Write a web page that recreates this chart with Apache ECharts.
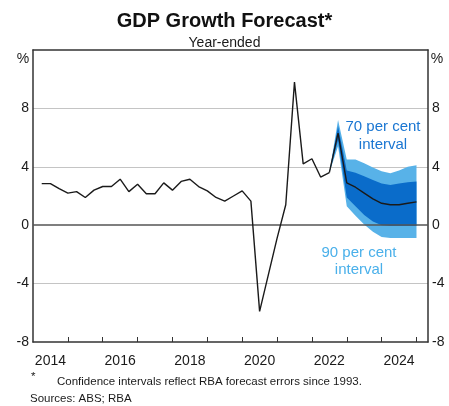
<!DOCTYPE html>
<html>
<head>
<meta charset="utf-8">
<script src="https://cdn.jsdelivr.net/npm/echarts@6/dist/echarts.min.js"></script>
<style>
html,body{margin:0;padding:0;background:#fff;}
#c{width:449px;height:406px;}
</style>
</head>
<body>
<div id="c"></div>
<script>
// Quarter-end dates and year-ended GDP growth (%)
var histQuarters = [
  '2014Q1','2014Q2','2014Q3','2014Q4',
  '2015Q1','2015Q2','2015Q3','2015Q4',
  '2016Q1','2016Q2','2016Q3','2016Q4',
  '2017Q1','2017Q2','2017Q3','2017Q4',
  '2018Q1','2018Q2','2018Q3','2018Q4',
  '2019Q1','2019Q2','2019Q3','2019Q4',
  '2020Q1','2020Q2','2020Q3','2020Q4',
  '2021Q1','2021Q2','2021Q3','2021Q4',
  '2022Q1','2022Q2'
];
var histValues = [
  2.85, 2.85, 2.5, 2.2,
  2.3, 1.9, 2.4, 2.65,
  2.65, 3.15, 2.3, 2.8,
  2.15, 2.15, 2.9, 2.4,
  3.0, 3.15, 2.65, 2.35,
  1.9, 1.65, 2.0, 2.35,
  1.65, -5.9, -3.4, -0.9,
  1.4, 9.8, 4.2, 4.55,
  3.3, 3.6
];
// Forecast: starts at last actual (2022Q2)
var fcQuarters = ['2022Q2','2022Q3','2022Q4','2023Q1','2023Q2','2023Q3','2023Q4','2024Q1','2024Q2','2024Q3','2024Q4'];
var fcCentral  = [3.6, 6.3, 2.9, 2.6, 2.2, 1.8, 1.5, 1.4, 1.4, 1.5, 1.6];
var fcUpper90  = [3.6, 7.2, 4.5, 4.5, 4.25, 3.95, 3.7, 3.55, 3.75, 4.0, 4.1];
var fcUpper70  = [3.6, 6.8, 3.75, 3.6, 3.35, 3.1, 2.85, 2.75, 2.85, 2.95, 3.0];
var fcLower70  = [3.6, 5.8, 1.9, 1.3, 0.7, 0.25, 0.0, -0.05, -0.05, -0.05, -0.05];
var fcLower90  = [3.6, 5.4, 1.3, 0.65, 0.05, -0.45, -0.8, -0.87, -0.87, -0.87, -0.87];

var xLabelYears = [2014, 2016, 2018, 2020, 2022, 2024];
var xTickYears = [2015, 2016, 2017, 2018, 2019, 2020, 2021, 2022, 2023, 2024, 2025];

function qToX(q){ var y = parseInt(q.slice(0,4),10); var n = parseInt(q.slice(5),10); return y + n/4; }
function pairs(qs, vals){ return qs.map(function(q,i){ return [qToX(q), vals[i]]; }); }

var DARK = '#0a6cca', LIGHT = '#58b2e8';
var FONT = 'Liberation Sans, Arial, sans-serif';

function bandPolygon(api, upper, lower, color){
  var pts = [];
  for (var i = 0; i < fcQuarters.length; i++) pts.push(api.coord([qToX(fcQuarters[i]), upper[i]]));
  for (var j = fcQuarters.length - 1; j >= 0; j--) pts.push(api.coord([qToX(fcQuarters[j]), lower[j]]));
  return {type: 'polygon', shape: {points: pts}, style: {fill: color, stroke: null}};
}

var chart = echarts.init(document.getElementById('c'), null, {renderer:'canvas'});
var yLabel = {
  show: true, color: '#1a1a1a', fontSize: 14, fontFamily: FONT, margin: 4,
  formatter: function(v){ return v === 12 ? '' : String(v); }
};
var option = {
  animation: false,
  backgroundColor: '#fff',
  title: {
    text: 'GDP Growth Forecast*',
    subtext: 'Year-ended',
    left: 'center', top: 11, itemGap: 5, padding: 0,
    textStyle: {fontFamily: FONT, fontSize: 20, fontWeight: 'bold', color: '#111'},
    subtextStyle: {fontFamily: FONT, fontSize: 14, color: '#1a1a1a'}
  },
  grid: {left: 33, right: 21, top: 50, bottom: 64, containLabel: false},
  xAxis: [{
    type: 'value', min: 2014, max: 2025.33,
    axisLine: {show: true, onZero: false, lineStyle: {color: '#333', width: 1.5}},
    axisTick: {show: true, inside: true, length: 5, customValues: xTickYears, lineStyle: {color: '#333', width: 1}},
    axisLabel: {show: true, customValues: xLabelYears.map(function(y){return y+0.5;}), formatter: function(v){ return String(Math.floor(v)); }, color: '#1a1a1a', fontSize: 14, fontFamily: FONT, margin: 12},
    splitLine: {show: false}
  }, {
    type: 'value', min: 2014, max: 2025.33, position: 'top',
    axisLine: {show: true, onZero: false, lineStyle: {color: '#333', width: 1.5}},
    axisTick: {show: false}, axisLabel: {show: false}, splitLine: {show: false}
  }],
  yAxis: [{
    type: 'value', min: -8, max: 12, interval: 4, position: 'left',
    axisLine: {show: true, onZero: false, lineStyle: {color: '#333', width: 1.5}},
    axisTick: {show: false},
    axisLabel: yLabel,
    splitLine: {show: true, lineStyle: {color: ['transparent','#c4c4c4','transparent','#c4c4c4','#c4c4c4','transparent'], width: 1.2}}
  }, {
    type: 'value', min: -8, max: 12, interval: 4, position: 'right',
    axisLine: {show: true, onZero: false, lineStyle: {color: '#333', width: 1.5}},
    axisTick: {show: false},
    axisLabel: yLabel,
    splitLine: {show: false}
  }],
  series: [
    {type: 'custom', name: 'bands', data: pairs(fcQuarters, fcCentral), silent: true, z: 2,
      renderItem: function(params, api){
        if (params.dataIndex !== 0) return null;
        return {type: 'group', children: [
          bandPolygon(api, fcUpper90, fcLower90, LIGHT),
          bandPolygon(api, fcUpper70, fcLower70, DARK)
        ]};
      }},
    {type: 'line', name: 'zero', data: [], symbol: 'none', z: 3,
      markLine: {silent: true, symbol: 'none', label: {show: false}, lineStyle: {color: '#555', width: 1.6, type: 'solid'}, data: [{yAxis: 0}]}},
    {type: 'line', name: 'hist', data: pairs(histQuarters, histValues), symbol: 'none', lineStyle: {color: '#1a1a1a', width: 1.4}, z: 5},
    {type: 'line', name: 'central', data: pairs(fcQuarters, fcCentral), symbol: 'none', lineStyle: {color: '#1a1a1a', width: 1.4}, z: 5}
  ],
  graphic: [
    {type: 'text', x: 23, y: 59, style: {text: '%', font: '14px ' + FONT, fill: '#1a1a1a', align: 'center', verticalAlign: 'middle'}},
    {type: 'text', x: 437, y: 59, style: {text: '%', font: '14px ' + FONT, fill: '#1a1a1a', align: 'center', verticalAlign: 'middle'}},
    {type: 'text', x: 383, y: 127, style: {text: '70 per cent', font: '15px ' + FONT, fill: '#1a76d2', align: 'center', verticalAlign: 'middle'}},
    {type: 'text', x: 383, y: 145, style: {text: 'interval', font: '15px ' + FONT, fill: '#1a76d2', align: 'center', verticalAlign: 'middle'}},
    {type: 'text', x: 359, y: 253, style: {text: '90 per cent', font: '15px ' + FONT, fill: '#4ab0ea', align: 'center', verticalAlign: 'middle'}},
    {type: 'text', x: 359, y: 270, style: {text: 'interval', font: '15px ' + FONT, fill: '#4ab0ea', align: 'center', verticalAlign: 'middle'}},
    {type: 'text', x: 31, y: 377, style: {text: '*', font: '11.5px ' + FONT, fill: '#1a1a1a', verticalAlign: 'middle'}},
    {type: 'text', x: 57, y: 382, style: {text: 'Confidence intervals reflect RBA forecast errors since 1993.', font: '11.5px ' + FONT, fill: '#1a1a1a', verticalAlign: 'middle'}},
    {type: 'text', x: 30, y: 399, style: {text: 'Sources: ABS; RBA', font: '11.5px ' + FONT, fill: '#1a1a1a', verticalAlign: 'middle'}}
  ]
};
chart.setOption(option);
</script>
</body>
</html>
